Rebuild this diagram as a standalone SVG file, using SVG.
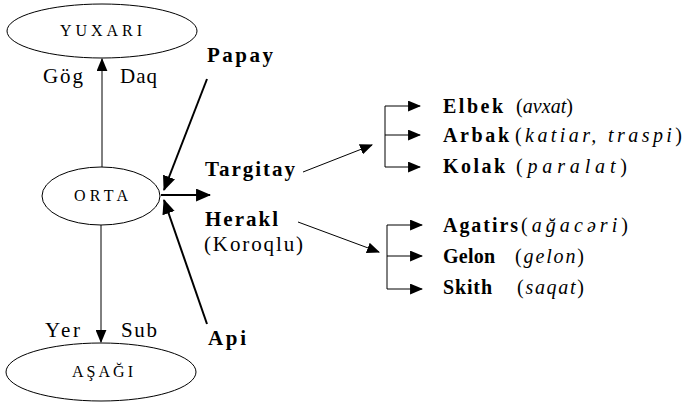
<svg xmlns="http://www.w3.org/2000/svg" width="684" height="404" viewBox="0 0 684 404">
<style>
.ell{fill:#fff;stroke:#000;stroke-width:1}
.lbl{font-family:"Liberation Serif",serif;font-size:16px;fill:#000}
.t{font-family:"Liberation Serif",serif;font-size:21px;fill:#000}
.b{font-family:"Liberation Serif",serif;font-size:21px;font-weight:bold;fill:#000}
.rb{font-family:"Liberation Serif",serif;font-size:20px;font-weight:bold;fill:#000}
.ri{font-family:"Liberation Serif",serif;font-size:20px;fill:#000}
.ri tspan.i{font-style:italic}
.thin{stroke:#000;stroke-width:1;fill:none}
.thick{stroke:#000;stroke-width:2;fill:none}
</style>
<defs>
<marker id="ah" viewBox="0 0 12 10" refX="11" refY="5" markerWidth="13" markerHeight="11" markerUnits="userSpaceOnUse" orient="auto">
<path d="M0,0 L12,5 L0,10 z" fill="#000"/>
</marker>
<marker id="ahb" viewBox="0 0 14 12" refX="13" refY="6" markerWidth="15" markerHeight="13" markerUnits="userSpaceOnUse" orient="auto">
<path d="M0,0 L14,6 L0,12 z" fill="#000"/>
</marker>
</defs>
<rect width="684" height="404" fill="#fff"/>
<g id="connectors">
<line class="thin" x1="102" y1="167" x2="102" y2="59" marker-end="url(#ah)"/>
<line class="thin" x1="101" y1="225" x2="101" y2="342" marker-end="url(#ah)"/>
<line class="thick" x1="207" y1="79" x2="164" y2="190" marker-end="url(#ahb)"/>
<line class="thick" x1="207" y1="324" x2="164" y2="200" marker-end="url(#ahb)"/>
<line class="thick" x1="161" y1="195" x2="210" y2="195" marker-end="url(#ahb)"/>
<line class="thin" x1="303" y1="172" x2="372" y2="145" marker-end="url(#ah)"/>
<line class="thin" x1="298" y1="222" x2="379" y2="252" marker-end="url(#ah)"/>
<path class="thin" d="M385,106 L385,167"/>
<line class="thin" x1="385" y1="106" x2="420" y2="106" marker-end="url(#ah)"/>
<line class="thin" x1="385" y1="135" x2="420" y2="135" marker-end="url(#ah)"/>
<line class="thin" x1="385" y1="167" x2="420" y2="167" marker-end="url(#ah)"/>
<path class="thin" d="M387,225 L387,289"/>
<line class="thin" x1="387" y1="225" x2="422" y2="225" marker-end="url(#ah)"/>
<line class="thin" x1="387" y1="256" x2="422" y2="256" marker-end="url(#ah)"/>
<line class="thin" x1="387" y1="289" x2="422" y2="289" marker-end="url(#ah)"/>
</g>
<g id="yuxari">
<ellipse class="ell" cx="102" cy="31" rx="95" ry="27"/>
<text class="lbl" x="60" y="36" textLength="82" lengthAdjust="spacing">YUXARI</text>
</g>
<g id="orta">
<ellipse class="ell" cx="101" cy="196" rx="59" ry="29"/>
<text class="lbl" x="74" y="201" textLength="54" lengthAdjust="spacing">ORTA</text>
</g>
<g id="asagi">
<ellipse class="ell" cx="101" cy="372" rx="95" ry="29"/>
<text class="lbl" x="72" y="377" textLength="61" lengthAdjust="spacing">AŞAĞI</text>
</g>
<g id="labels-vertical">
<text class="t" x="43" y="83" textLength="40" lengthAdjust="spacing">Gög</text>
<text class="t" x="120" y="83" textLength="37" lengthAdjust="spacing">Daq</text>
<text class="t" x="45" y="337" textLength="35" lengthAdjust="spacing">Yer</text>
<text class="t" x="121" y="337" textLength="36" lengthAdjust="spacing">Sub</text>
</g>
<g id="papay"><text class="b" x="207" y="62" textLength="66" lengthAdjust="spacing">Papay</text></g>
<g id="targitay"><text class="b" x="205" y="176" textLength="90" lengthAdjust="spacing">Targitay</text></g>
<g id="herakl">
<text class="b" x="205" y="226" textLength="73" lengthAdjust="spacing">Herakl</text>
<text class="t" x="204" y="251" textLength="99" lengthAdjust="spacing">(Koroqlu)</text>
</g>
<g id="api"><text class="b" x="208" y="345" textLength="38" lengthAdjust="spacing">Api</text></g>
<g id="elbek">
<text class="rb" x="443" y="113" textLength="60" lengthAdjust="spacing">Elbek</text>
<text class="ri" x="516" y="113" textLength="57" lengthAdjust="spacing">(<tspan class="i">avxat</tspan>)</text>
</g>
<g id="arbak">
<text class="rb" x="443" y="142" textLength="66" lengthAdjust="spacing">Arbak</text>
<text class="ri" x="515" y="142" textLength="167" lengthAdjust="spacing">(<tspan class="i">katiar, traspi</tspan>)</text>
</g>
<g id="kolak">
<text class="rb" x="443" y="173" textLength="62" lengthAdjust="spacing">Kolak</text>
<text class="ri" x="516" y="173" textLength="111" lengthAdjust="spacing">(<tspan class="i">paralat</tspan>)</text>
</g>
<g id="agatirs">
<text class="rb" x="443" y="232" textLength="75" lengthAdjust="spacing">Agatirs</text>
<text class="ri" x="521" y="232" textLength="107" lengthAdjust="spacing">(<tspan class="i">ağacəri</tspan>)</text>
</g>
<g id="gelon">
<text class="rb" x="443" y="263" textLength="52" lengthAdjust="spacing">Gelon</text>
<text class="ri" x="515" y="263" textLength="69" lengthAdjust="spacing">(<tspan class="i">gelon</tspan>)</text>
</g>
<g id="skith">
<text class="rb" x="443" y="294" textLength="49" lengthAdjust="spacing">Skith</text>
<text class="ri" x="517" y="294" textLength="67" lengthAdjust="spacing">(<tspan class="i">saqat</tspan>)</text>
</g>
</svg>
